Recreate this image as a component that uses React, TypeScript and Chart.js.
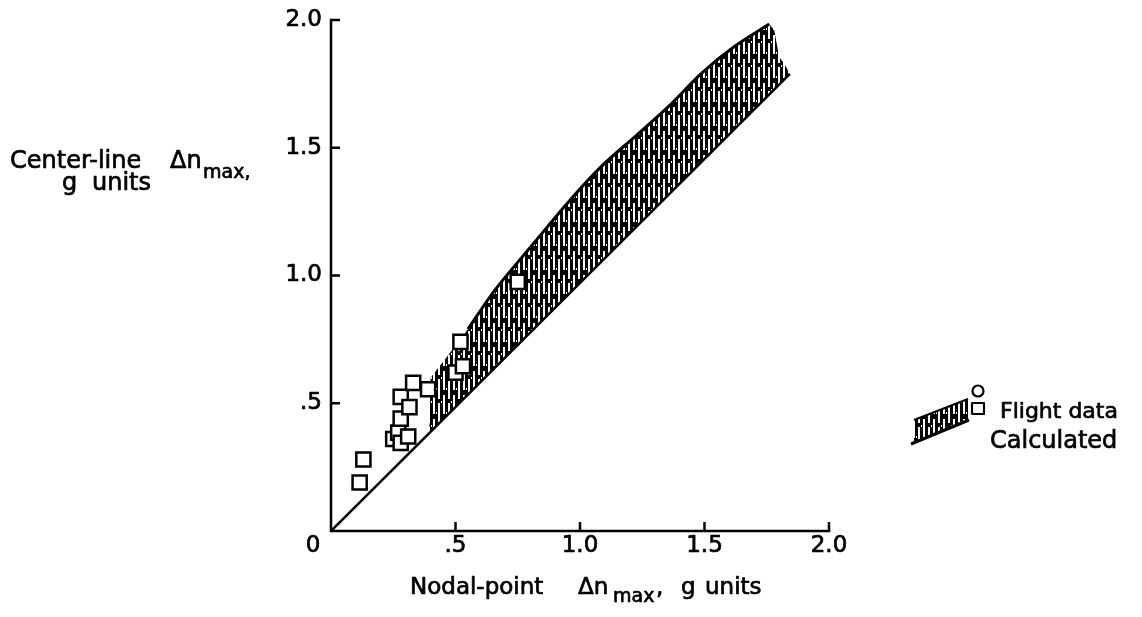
import React, { useEffect, useRef } from "react";
import { Chart, registerables } from "chart.js";

Chart.register(...registerables);

// Flight data (squares)
const flightX = [0.115, 0.13, 0.25, 0.27, 0.28, 0.28, 0.28, 0.31, 0.315, 0.33, 0.39, 0.5, 0.53, 0.52, 0.75];
const flightY = [0.19, 0.28, 0.36, 0.385, 0.345, 0.44, 0.525, 0.37, 0.485, 0.58, 0.555, 0.62, 0.645, 0.74, 0.975];

// Calculated band: upper boundary
const calcUpperX = [0.4, 0.48, 0.55, 0.63, 0.68, 0.815, 0.95, 1.085, 1.22, 1.355, 1.49, 1.62, 1.76];
const calcUpperY = [0.6, 0.7, 0.79, 0.905, 0.97, 1.127, 1.284, 1.426, 1.543, 1.661, 1.793, 1.896, 1.984];
// ragged right end of the band
const calcEndX = [1.78, 1.8, 1.82, 1.843];
const calcEndY = [1.96, 1.855, 1.83, 1.789];
// lower boundary (the diagonal line)
const calcLowerX = [1.843, 0.395];
const calcLowerY = [1.789, 0.383];

// Diagonal reference line
const diagX = [0, 1.843];
const diagY = [0, 1.789];

const xTicks = [0, 0.5, 1.0, 1.5, 2.0];
const xTickLabels = ["0", ".5", "1.0", "1.5", "2.0"];
const yTicks = [0.5, 1.0, 1.5, 2.0];
const yTickLabels = [".5", "1.0", "1.5", "2.0"];

const FONT = "'DejaVu Sans', 'Liberation Sans', sans-serif";

function makePattern(): CanvasPattern | string {
  const c = document.createElement("canvas");
  c.width = 10;
  c.height = 24;
  const g = c.getContext("2d");
  if (!g) return "#222";
  g.fillStyle = "#fff";
  g.fillRect(0, 0, 10, 24);
  g.fillStyle = "#000";
  g.fillRect(0, 0, 3, 24);
  g.fillRect(5, 0, 3, 24);
  g.fillRect(3, 6, 2, 5);
  g.fillRect(8, 15, 2, 4);
  g.fillStyle = "#fff";
  g.fillRect(1, 17, 1, 2);
  g.fillRect(6, 4, 1, 2);
  const ctx = document.createElement("canvas").getContext("2d");
  const p = ctx ? ctx.createPattern(c, "repeat") : null;
  return p || "#222";
}

const zip = (xs: number[], ys: number[]) => xs.map((x, i) => ({ x, y: ys[i] }));

export default function App() {
  const ref = useRef<HTMLCanvasElement | null>(null);

  useEffect(() => {
    if (!ref.current) return;
    const pattern = makePattern();

    const bandPoints = [
      ...zip(calcUpperX, calcUpperY),
      ...zip(calcEndX, calcEndY),
      ...zip(calcLowerX, calcLowerY),
      { x: calcUpperX[0], y: calcUpperY[0] },
    ];
    const upperLinePoints = zip(calcUpperX, calcUpperY).filter((p) => p.x >= 0.55);

    const decor = {
      id: "decor",
      afterDraw(chart: any) {
        const ctx = chart.ctx as CanvasRenderingContext2D;
        const xs = chart.scales.x;
        const ys = chart.scales.y;
        const x0 = xs.getPixelForValue(0);
        const y0 = ys.getPixelForValue(0);
        const x2 = xs.getPixelForValue(2);
        const y2 = ys.getPixelForValue(2);

        const text = (s: string, x: number, y: number) => {
          ctx.fillText(s, x, y);
          ctx.strokeText(s, x, y);
        };

        ctx.save();
        ctx.strokeStyle = "#000";
        ctx.fillStyle = "#000";
        ctx.lineWidth = 2.5;
        ctx.lineCap = "square";
        // axes
        ctx.beginPath();
        ctx.moveTo(x0, y2);
        ctx.lineTo(x0, y0);
        ctx.lineTo(x2, y0);
        ctx.stroke();
        ctx.lineCap = "butt";
        // inward tick marks
        xTicks.forEach((v) => {
          if (v === 0) return;
          const px = xs.getPixelForValue(v);
          ctx.beginPath();
          ctx.moveTo(px, y0);
          ctx.lineTo(px, y0 - 9);
          ctx.stroke();
        });
        yTicks.forEach((v) => {
          const py = ys.getPixelForValue(v);
          ctx.beginPath();
          ctx.moveTo(x0, py);
          ctx.lineTo(x0 + 9, py);
          ctx.stroke();
        });

        ctx.lineWidth = 0.7;
        ctx.lineJoin = "round";
        // tick labels
        ctx.font = `23px ${FONT}`;
        ctx.textBaseline = "middle";
        ctx.textAlign = "center";
        xTicks.forEach((v, i) => {
          let px = xs.getPixelForValue(v);
          if (v === 0) px -= 18;
          text(xTickLabels[i], px, y0 + 15);
        });
        ctx.textAlign = "right";
        yTicks.forEach((v, i) => {
          const py = ys.getPixelForValue(v);
          text(yTickLabels[i], x0 - 9, py);
        });

        // x-axis title
        ctx.textBaseline = "alphabetic";
        ctx.textAlign = "left";
        ctx.font = `23px ${FONT}`;
        text("Nodal-point", 410, 594);
        text("\u0394n", 578, 594);
        ctx.font = `19px ${FONT}`;
        text("max", 613, 602);
        ctx.font = `23px ${FONT}`;
        text(",", 656, 594);
        text("g", 681, 594);
        text("units", 705, 594);

        // y-axis title
        ctx.font = `24px ${FONT}`;
        text("Center-line", 10, 168);
        text("\u0394n", 170, 168);
        ctx.font = `19px ${FONT}`;
        text("max,", 203, 178);
        ctx.font = `24px ${FONT}`;
        text("g", 62, 190);
        text("units", 92, 190);

        // legend
        ctx.lineWidth = 2.2;
        ctx.beginPath();
        ctx.arc(978, 391, 5.5, 0, Math.PI * 2);
        ctx.stroke();
        ctx.strokeRect(972, 403, 12, 11);
        ctx.lineWidth = 0.7;
        ctx.font = `22px ${FONT}`;
        text("Flight data", 1000, 418);
        // hatched parallelogram
        ctx.beginPath();
        ctx.moveTo(914, 420);
        ctx.lineTo(968, 399);
        ctx.lineTo(968, 420);
        ctx.lineTo(914, 442);
        ctx.closePath();
        ctx.fillStyle = pattern as any;
        ctx.fill();
        ctx.fillStyle = "#000";
        ctx.lineWidth = 2;
        ctx.beginPath();
        ctx.moveTo(914, 420);
        ctx.lineTo(968, 399);
        ctx.stroke();
        ctx.lineWidth = 3;
        ctx.beginPath();
        ctx.moveTo(911, 444);
        ctx.lineTo(969, 420);
        ctx.stroke();
        ctx.lineWidth = 0.7;
        ctx.font = `24px ${FONT}`;
        text("Calculated", 990, 448);
        ctx.restore();
      },
    };

    const chart = new Chart(ref.current, {
      type: "scatter",
      data: {
        datasets: [
          {
            label: "Flight data",
            data: zip(flightX, flightY),
            showLine: false,
            pointStyle: "rect",
            pointRadius: 10,
            pointBackgroundColor: "#fff",
            pointBorderColor: "#000",
            pointBorderWidth: 2.5,
          },
          {
            label: "Diagonal",
            data: zip(diagX, diagY),
            showLine: true,
            borderColor: "#000",
            borderWidth: 2.5,
            pointRadius: 0,
            fill: false,
          },
          {
            label: "Calculated upper",
            data: upperLinePoints,
            showLine: true,
            borderColor: "#000",
            borderWidth: 3,
            pointRadius: 0,
            tension: 0.3,
            fill: false,
          },
          {
            label: "Calculated",
            data: bandPoints,
            showLine: true,
            borderWidth: 0,
            borderColor: "rgba(0,0,0,0)",
            backgroundColor: pattern as any,
            pointRadius: 0,
            fill: "shape",
          } as any,
        ],
      },
      options: {
        responsive: false,
        animation: false,
        layout: { padding: { left: 331, right: 1142 - 829, top: 20, bottom: 617 - 531 } },
        scales: {
          x: { type: "linear", display: false, min: 0, max: 2 },
          y: { type: "linear", display: false, min: 0, max: 2 },
        },
        plugins: {
          legend: { display: false },
          tooltip: { enabled: false },
        },
      },
      plugins: [decor],
    });
    return () => chart.destroy();
  }, []);

  return (
    <div style={{ position: "fixed", left: 0, top: 0, width: 1142, height: 617, background: "#fff" }}>
      <canvas ref={ref} width={1142} height={617} style={{ display: "block" }} />
    </div>
  );
}
